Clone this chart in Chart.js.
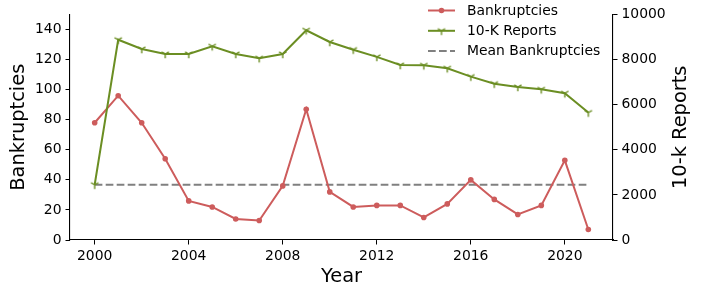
<!DOCTYPE html>
<html>
<head>
<meta charset="utf-8">
<script src="https://cdn.jsdelivr.net/npm/chart.js@4/dist/chart.umd.min.js"></script>
<style>
  body { margin: 0; background: #fff; }
  canvas { display: block; }
</style>
</head>
<body>
<canvas id="bankChart" width="705" height="291" style="width:705px;height:291px"></canvas>
<script>
// data
const years = [2000, 2001, 2002, 2003, 2004, 2005, 2006, 2007, 2008, 2009, 2010,
               2011, 2012, 2013, 2014, 2015, 2016, 2017, 2018, 2019, 2020, 2021];
const bankruptcies = [78, 96, 78, 54, 26, 22, 14, 13, 36, 87, 32,
                      22, 23, 23, 15, 24, 40, 27, 17, 23, 53, 7];
const reports = [2450, 8880, 8470, 8250, 8250, 8590, 8250, 8060, 8250, 9300, 8780,
                 8440, 8120, 7760, 7745, 7615, 7245, 6930, 6785, 6680, 6505, 5650];
const xTicks = [2000, 2004, 2008, 2012, 2016, 2020];
const leftTicks = [0, 20, 40, 60, 80, 100, 120, 140];
const rightTicks = [0, 2000, 4000, 6000, 8000, 10000];

const meanBankruptcies = bankruptcies.reduce((a, b) => a + b, 0) / bankruptcies.length;

const RED = '#cd5c5c';
const GREEN = '#6b8e23';
const GREY = '#808080';
const FONT = "'DejaVu Sans', sans-serif";
const LW = 2;

// matplotlib-style tri_down marker
function triDown(size, color) {
    const c = document.createElement('canvas');
    c.width = size; c.height = size;
    const g = c.getContext('2d');
    const m = size / 2, r = 4.2;
    g.strokeStyle = color;
    g.lineWidth = 1.4;
    g.beginPath();
    g.moveTo(m, m); g.lineTo(m, m + r);
    g.moveTo(m, m); g.lineTo(m + r * 0.866, m - r * 0.5);
    g.moveTo(m, m); g.lineTo(m - r * 0.866, m - r * 0.5);
    g.stroke();
    return c;
}
const triMarker = triDown(12, GREEN);

const toPoints = vals => vals.map((v, i) => ({ x: years[i], y: v }));

const legendItems = [
    { label: 'Bankruptcies', color: RED, marker: 'dot', dash: [] },
    { label: '10-K Reports', color: GREEN, marker: 'tri', dash: [] },
    { label: 'Mean Bankruptcies', color: GREY, marker: null, dash: [7.7, 3.3] }
];

const decorations = {
    id: 'decorations',
    afterDraw(chart) {
        const ctx = chart.ctx;
        const area = chart.chartArea;
        ctx.save();
        ctx.fillStyle = '#000';

        // axis titles
        ctx.font = '19.4px ' + FONT;
        ctx.textAlign = 'center';
        ctx.textBaseline = 'middle';
        ctx.fillText('Year', (area.left + area.right) / 2, 277);

        const midY = (area.top + area.bottom) / 2;
        ctx.save();
        ctx.translate(19, midY);
        ctx.rotate(-Math.PI / 2);
        ctx.fillText('Bankruptcies', 0, 0);
        ctx.restore();

        ctx.save();
        ctx.translate(681, midY);
        ctx.rotate(-Math.PI / 2);
        ctx.fillText('10-k Reports', 0, 0);
        ctx.restore();

        // legend
        ctx.font = '13.9px ' + FONT;
        ctx.textAlign = 'left';
        legendItems.forEach((item, i) => {
            const y = 10.5 + i * 20.3;
            ctx.strokeStyle = item.color;
            ctx.lineWidth = LW;
            ctx.setLineDash(item.dash);
            ctx.beginPath();
            ctx.moveTo(428, y);
            ctx.lineTo(455, y);
            ctx.stroke();
            ctx.setLineDash([]);
            if (item.marker === 'dot') {
                ctx.fillStyle = item.color;
                ctx.beginPath();
                ctx.arc(441.5, y, 2.8, 0, Math.PI * 2);
                ctx.fill();
            } else if (item.marker === 'tri') {
                ctx.drawImage(triMarker, 441.5 - 6, y - 6);
            }
            ctx.fillStyle = '#000';
            ctx.fillText(item.label, 467, y + 0.5);
        });
        ctx.restore();
    }
};

const tickGrid = { drawOnChartArea: false, drawTicks: true, tickLength: 4.5, tickColor: '#000', tickWidth: 1 };
const tickFont = { family: FONT, size: 13.9 };

Chart.defaults.color = '#000';

new Chart(document.getElementById('bankChart').getContext('2d'), {
    type: 'line',
    data: {
        datasets: [
            {
                label: '10-K Reports',
                data: toPoints(reports),
                yAxisID: 'y2',
                borderColor: GREEN,
                borderWidth: LW,
                pointStyle: triMarker,
                pointRadius: 6,
                order: 0
            },
            {
                label: 'Bankruptcies',
                data: toPoints(bankruptcies),
                yAxisID: 'y',
                borderColor: RED,
                backgroundColor: RED,
                borderWidth: LW,
                pointRadius: 2.8,
                pointBorderWidth: 0,
                order: 1
            },
            {
                label: 'Mean Bankruptcies',
                data: [{ x: years[0], y: meanBankruptcies }, { x: years[years.length - 1], y: meanBankruptcies }],
                yAxisID: 'y',
                borderColor: GREY,
                borderWidth: LW,
                borderDash: [7.7, 3.3],
                pointRadius: 0,
                order: 2
            }
        ]
    },
    options: {
        responsive: false,
        animation: false,
        layout: { padding: { top: 14.5, left: 0, right: 0, bottom: 0 } },
        plugins: {
            legend: { display: false },
            tooltip: { enabled: false }
        },
        scales: {
            x: {
                type: 'linear',
                min: 1998.95,
                max: 2022.05,
                grid: tickGrid,
                border: { display: true, color: '#000', width: 1.1 },
                ticks: { font: tickFont, padding: 4, maxRotation: 0, callback: v => String(v) },
                afterBuildTicks: s => { s.ticks = xTicks.map(v => ({ value: v })); },
                afterFit: s => { s.height = 51; }
            },
            y: {
                position: 'left',
                min: 0,
                max: 150,
                grid: tickGrid,
                border: { display: true, color: '#000', width: 1.1 },
                ticks: { font: tickFont, padding: 4 },
                afterBuildTicks: s => { s.ticks = leftTicks.map(v => ({ value: v })); },
                afterFit: s => { s.width = 70; }
            },
            y2: {
                position: 'right',
                min: 0,
                max: 10000,
                grid: tickGrid,
                border: { display: true, color: '#000', width: 1.1 },
                ticks: { font: tickFont, padding: 4, callback: v => String(v) },
                afterBuildTicks: s => { s.ticks = rightTicks.map(v => ({ value: v })); },
                afterFit: s => { s.width = 92; }
            }
        }
    },
    plugins: [decorations]
});
</script>
</body>
</html>
